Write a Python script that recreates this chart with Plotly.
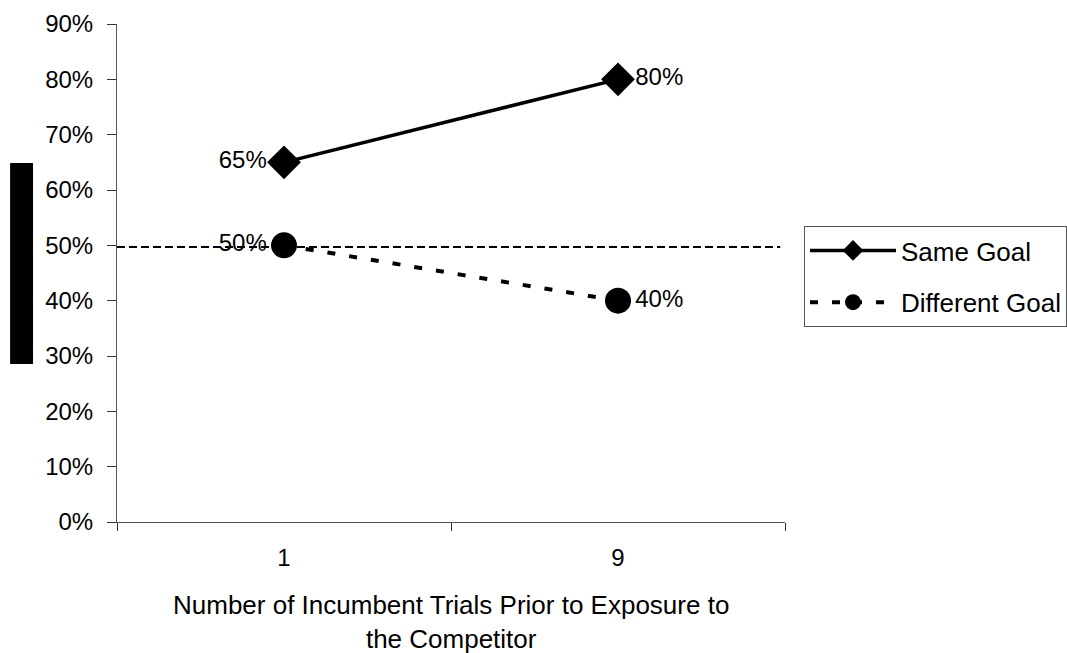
import plotly.graph_objects as go

categories = ["1", "9"]
same_goal = [0.65, 0.80]
different_goal = [0.50, 0.40]
same_labels = ["65%", "80%"]
diff_labels = ["50%", "40%"]
y_ticks = [0, 0.1, 0.2, 0.3, 0.4, 0.5, 0.6, 0.7, 0.8, 0.9]
y_ticktext = ["0%", "10%", "20%", "30%", "40%", "50%", "60%", "70%", "80%", "90%"]
reference_level = 0.497
x_title = "Number of Incumbent Trials Prior to Exposure to<br>the Competitor"

FONT = "Liberation Sans, Arial, sans-serif"

fig = go.Figure()
fig.add_trace(go.Scatter(
    x=categories, y=same_goal, name="Same Goal",
    mode="lines+markers+text",
    text=same_labels, textposition=["middle left", "middle right"],
    textfont=dict(size=24, color="black", family=FONT),
    line=dict(color="black", width=3.5),
    marker=dict(symbol="diamond", size=26, color="black"),
    legendgroup="a", cliponaxis=False,
))
fig.add_trace(go.Scatter(
    x=categories, y=different_goal, name="Different Goal",
    mode="lines+markers+text",
    text=diff_labels, textposition=["middle left", "middle right"],
    textfont=dict(size=24, color="black", family=FONT),
    line=dict(color="black", width=4, dash="8px,14px"),
    marker=dict(symbol="circle", size=26, color="black"),
    legendgroup="b", cliponaxis=False,
))

fig.add_shape(type="line", xref="paper", yref="y", x0=0, x1=0.993,
              y0=reference_level, y1=reference_level,
              line=dict(color="black", width=2, dash="8px,4px"), layer="below")
fig.add_shape(type="rect", xref="paper", yref="y", x0=-0.160, x1=-0.1257,
              y0=0.2855, y1=0.649, fillcolor="black", line=dict(width=0))

fig.add_annotation(text=x_title, xref="paper", yref="paper", x=0.5, y=-0.2018,
                   showarrow=False, font=dict(size=26, color="black", family=FONT),
                   align="center", yanchor="middle")

fig.update_layout(
    width=1067, height=653,
    margin=dict(l=117, r=282, t=24, b=131, autoexpand=False),
    paper_bgcolor="white", plot_bgcolor="white",
    font=dict(family=FONT, size=24, color="black"),
    showlegend=True,
    legend=dict(
        xref="container", yref="container",
        x=804 / 1067, y=1 - 226 / 653, xanchor="left", yanchor="top",
        bordercolor="#555555", borderwidth=1,
        font=dict(size=26, color="black", family=FONT),
        itemwidth=86, traceorder="grouped", tracegroupgap=15,
        bgcolor="white",
    ),
    xaxis=dict(
        type="category", range=[-0.5, 1.5], tickson="boundaries",
        showline=True, linecolor="#555555", linewidth=1,
        ticks="outside", ticklen=8, tickcolor="#333333",
        showgrid=False, zeroline=False, ticklabelstandoff=14,
        tickfont=dict(size=24, color="black", family=FONT),
    ),
    yaxis=dict(
        range=[0, 0.9], tickvals=y_ticks, ticktext=y_ticktext,
        showline=True, linecolor="#555555", linewidth=1,
        ticks="outside", ticklen=9, tickcolor="#333333",
        showgrid=False, zeroline=False, ticklabelstandoff=9,
        tickfont=dict(size=24, color="black", family=FONT),
    ),
)

fig.write_html("out.html", config={"displayModeBar": False})
